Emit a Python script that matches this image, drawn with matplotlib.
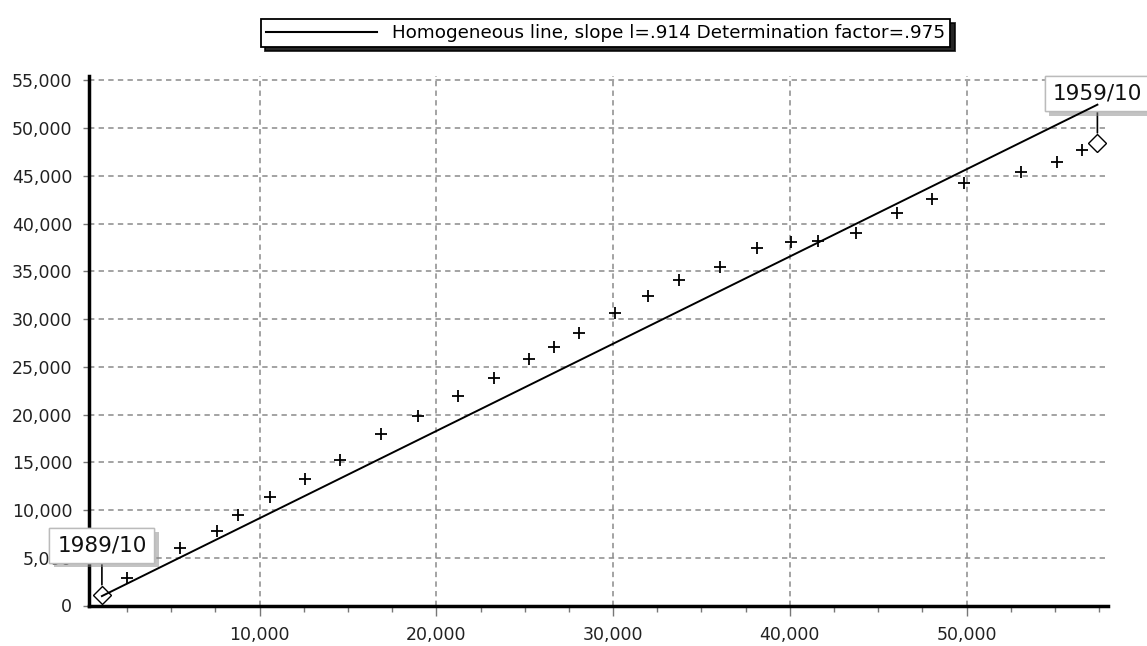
import matplotlib
matplotlib.use("Agg")
import matplotlib.pyplot as plt
import matplotlib.patheffects as pe
from matplotlib.ticker import MultipleLocator, FuncFormatter
from matplotlib.lines import Line2D

# ---- data ----
cum_x = [2527, 5483, 7590, 8780, 10610, 12550, 14530, 16850, 18960, 21220,
         23290, 25230, 26630, 28100, 30130, 31960, 33710, 36050, 38140, 40060,
         41610, 43740, 46090, 48070, 49860, 53060, 55100, 56550]
cum_y = [2850, 5990, 7840, 9480, 11400, 13250, 15240, 17940, 19890, 21950,
         23800, 25790, 27050, 28520, 30610, 32460, 34100, 35500, 37420, 38120,
         38190, 39000, 41150, 42590, 44230, 45390, 46430, 47720]
end_labels = ["1989/10", "1959/10"]
end_x = [1080, 57400]
end_y = [1150, 48490]
slope = 0.914
legend_label = "Homogeneous line, slope l=.914 Determination factor=.975"

fig = plt.figure(figsize=(11.47, 6.46), dpi=100)
W, H = 1147, 646
ax = fig.add_axes([89 / W, 1 - 605.5 / H, (1108 - 89) / W, (605.5 - 75.7) / H])

# homogeneous line
lx = [end_x[0], end_x[1]]
ly = [slope * v for v in lx]
line, = ax.plot(lx, ly, color="black", lw=1.4, zorder=5)

# points
ax.plot(cum_x, cum_y, ls="none", marker="+", ms=9, mew=1.3, color="black", zorder=4)
ax.plot(end_x, end_y, ls="none", marker="D", ms=9, mfc="white", mec="black",
        mew=1.0, zorder=4)

# end labels
for lab, xv, yv in zip(end_labels, end_x, end_y):
    t = ax.annotate(lab, xy=(xv, yv), xytext=(0, 49), textcoords="offset pixels",
                    ha="center", va="center", fontsize=15.5, color="#111111",
                    annotation_clip=False, zorder=3,
                    bbox=dict(boxstyle="square,pad=0.36", fc="white", ec="#bbbbbb", lw=1),
                    arrowprops=dict(arrowstyle="-", color="black", lw=1.2,
                                    shrinkA=0, shrinkB=7))
    t.get_bbox_patch().set_path_effects([
        pe.withSimplePatchShadow(offset=(3, -3), shadow_rgbFace="#888888", alpha=0.5),
        pe.Normal()])

ax.set_xlim(350, 58000)
ax.set_ylim(0, 55500)
ax.xaxis.set_major_locator(MultipleLocator(10000))
ax.xaxis.set_minor_locator(MultipleLocator(2500))
ax.yaxis.set_major_locator(MultipleLocator(5000))
fmt = FuncFormatter(lambda v, p: f"{int(v):,}")
ax.xaxis.set_major_formatter(fmt)
ax.yaxis.set_major_formatter(fmt)

for s in ["top", "right"]:
    ax.spines[s].set_visible(False)
for s in ["left", "bottom"]:
    ax.spines[s].set_linewidth(2.5)
    ax.spines[s].set_color("black")

ax.grid(True, which="major", color="#8a8a8a", lw=1.1, ls=(0, (3.5, 2.8)))
ax.tick_params(axis="x", which="major", length=7, width=1, color="#777777",
               pad=8, labelsize=12.5, labelcolor="#222222")
ax.tick_params(axis="x", which="minor", length=4, width=1, color="#777777")
ax.tick_params(axis="y", which="major", length=4, width=1, color="#777777",
               pad=8, labelsize=12.5, labelcolor="#222222")

leg = fig.legend(handles=[Line2D([], [], color="black", lw=1.5)], labels=[legend_label],
                 loc="center", bbox_to_anchor=(605.5 / W, 1 - 33 / H),
                 fontsize=13.2, handlelength=6.05, handletextpad=0.85, borderpad=0.28,
                 fancybox=False, edgecolor="black", framealpha=1,
                 shadow={"ox": 3, "oy": -3, "color": "black", "alpha": 0.85})
leg.get_frame().set_linewidth(1.3)

fig.savefig("out.png", dpi=100)
